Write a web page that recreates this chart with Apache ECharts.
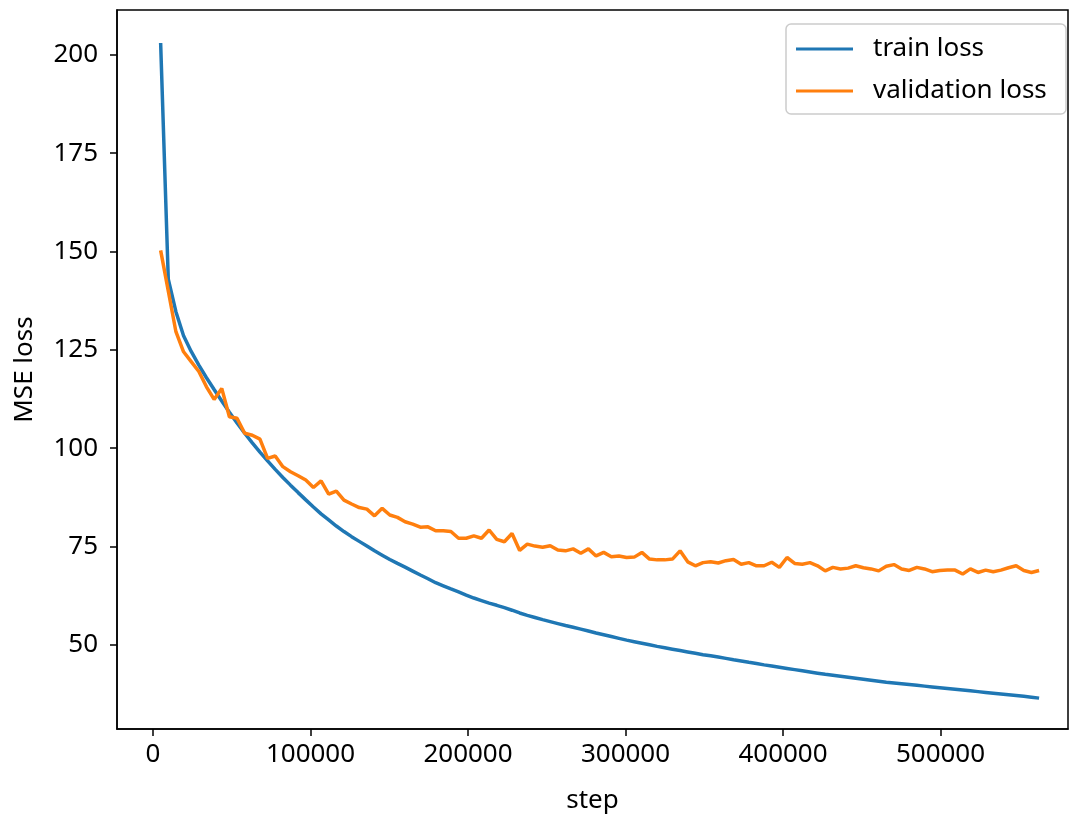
<!DOCTYPE html>
<html>
<head>
<meta charset="utf-8">
<script src="https://cdn.jsdelivr.net/npm/echarts@6/dist/echarts.min.js"></script>
<style>
  html, body { margin: 0; padding: 0; background: #fff; }
  #chart { width: 1073px; height: 823px; }
</style>
</head>
<body>
<div id="chart"></div>
<script>
// 训练步数
var steps = [
  4850, 9700, 14550, 19400, 24250, 29100, 33950, 38800, 43650, 48500,
  53350, 58200, 63050, 67900, 72750, 77600, 82450, 87300, 92150, 97000,
  101850, 106700, 111550, 116400, 121250, 126100, 130950, 135800, 140650, 145500,
  150350, 155200, 160050, 164900, 169750, 174600, 179450, 184300, 189150, 194000,
  198850, 203700, 208550, 213400, 218250, 223100, 227950, 232800, 237650, 242500,
  247350, 252200, 257050, 261900, 266750, 271600, 276450, 281300, 286150, 291000,
  295850, 300700, 305550, 310400, 315250, 320100, 324950, 329800, 334650, 339500,
  344350, 349200, 354050, 358900, 363750, 368600, 373450, 378300, 383150, 388000,
  392850, 397700, 402550, 407400, 412250, 417100, 421950, 426800, 431650, 436500,
  441350, 446200, 451050, 455900, 460750, 465600, 470450, 475300, 480150, 485000,
  489850, 494700, 499550, 504400, 509250, 514100, 518950, 523800, 528650, 533500,
  538350, 543200, 548050, 552900, 557750, 562600
]

var trainLoss = [
  203, 143, 134.7, 128.6, 124.6, 121.1, 117.9, 114.9, 112.0, 109.15,
  106.4, 103.8, 101.35, 99.0, 96.75, 94.6, 92.55, 90.6, 88.7, 86.85,
  85.05, 83.3, 81.75, 80.2, 78.8, 77.5, 76.3, 75.1, 73.9, 72.8,
  71.7, 70.7, 69.75, 68.75, 67.75, 66.8, 65.8, 65.0, 64.2, 63.45,
  62.65, 61.9, 61.25, 60.6, 60.05, 59.45, 58.8, 58.1, 57.5, 56.95,
  56.4, 55.9, 55.4, 54.9, 54.45, 54.0, 53.5, 53.0, 52.55, 52.1,
  51.65, 51.2, 50.8, 50.4, 50.0, 49.6, 49.25, 48.9, 48.55, 48.2,
  47.85, 47.5, 47.2, 46.9, 46.55, 46.2, 45.9, 45.55, 45.25, 44.9,
  44.6, 44.3, 44.0, 43.7, 43.4, 43.1, 42.8, 42.5, 42.25, 42.0,
  41.75, 41.5, 41.25, 41.0, 40.75, 40.5, 40.3, 40.1, 39.9, 39.7,
  39.5, 39.3, 39.1, 38.9, 38.7, 38.5, 38.3, 38.1, 37.9, 37.7,
  37.5, 37.3, 37.1, 36.9, 36.7, 36.45
]

var validationLoss = [
  150.3, 140, 129.6, 124.5, 122, 119.5, 115.6, 112.4, 115.2, 108,
  107.6, 103.8, 103.3, 102.3, 97.4, 98, 95.3, 94, 93.0, 91.9,
  90.0, 91.7, 88.3, 89.1, 86.8, 85.8, 84.9, 84.5, 82.8, 84.7,
  83.0, 82.4, 81.3, 80.7, 79.9, 80.0, 79.0, 79.0, 78.8, 77.1,
  77.1, 77.7, 77.1, 79.2, 76.8, 76.2, 78.3, 74.0, 75.6, 75.1,
  74.8, 75.2, 74.1, 73.9, 74.4, 73.3, 74.4, 72.6, 73.5, 72.4,
  72.6, 72.2, 72.3, 73.5, 71.8, 71.6, 71.6, 71.8, 73.9, 71.1,
  70.1, 70.9, 71.1, 70.8, 71.4, 71.7, 70.5, 70.9, 70.1, 70.1,
  71.0, 69.7, 72.2, 70.7, 70.5, 70.9, 70.1, 68.8, 69.7, 69.3,
  69.5, 70.1, 69.6, 69.3, 68.8, 70.0, 70.4, 69.3, 68.9, 69.7,
  69.3, 68.6, 68.9, 69.0, 69.0, 68.0, 69.3, 68.4, 69.0, 68.6,
  69.0, 69.6, 70.1, 68.9, 68.4, 68.9
]

var xTicks = [0, 100000, 200000, 300000, 400000, 500000]
var yTicks = [50, 75, 100, 125, 150, 175, 200]

var fontFamily = 'Noto Sans'
var fontSize = 26

function pairs(xs, ys) {
  return ys.map(function (v, i) { return [xs[i], v] })
}

var myChart = echarts.init(document.getElementById('chart'))

var option = {
  animation: false,
  textStyle: { fontFamily: fontFamily, color: '#000' },
  grid: {
    left: 117, top: 10, right: 5, bottom: 94,
    outerBoundsMode: 'none',
    containLabel: false,
    show: true,
    borderColor: '#000',
    borderWidth: 1.5,
    backgroundColor: '#fff'
  },
  legend: {
    orient: 'vertical',
    right: 7,
    top: 24,
    icon: 'rect',
    itemWidth: 57,
    itemHeight: 3,
    itemGap: 12,
    padding: [10, 9, 8, 10],
    borderColor: '#cccccc',
    borderWidth: 1.5,
    borderRadius: 5,
    backgroundColor: '#fff',
    textStyle: {
      fontFamily: fontFamily,
      fontSize: fontSize,
      color: '#000',
      lineHeight: 30,
      width: 184,
      padding: [0, 0, 0, 15]
    },
    data: ['train loss', 'validation loss']
  },
  xAxis: {
    type: 'value',
    min: -22857,
    max: 580952,
    name: 'step',
    nameLocation: 'middle',
    nameGap: 59,
    nameTextStyle: { fontFamily: fontFamily, fontSize: fontSize, color: '#000' },
    axisLine: { show: true, onZero: false, lineStyle: { color: '#000', width: 1.5 } },
    axisTick: { show: true, length: 7, lineStyle: { color: '#000', width: 1.5 }, customValues: xTicks },
    axisLabel: {
      fontFamily: fontFamily, fontSize: fontSize, color: '#000', margin: 13,
      customValues: xTicks,
      formatter: function (v) { return String(v) }
    },
    splitLine: { show: false }
  },
  yAxis: {
    type: 'value',
    min: 28.6,
    max: 211.4,
    name: 'MSE loss',
    nameLocation: 'middle',
    nameGap: 79,
    nameTextStyle: { fontFamily: fontFamily, fontSize: fontSize, color: '#000' },
    axisLine: { show: true, onZero: false, lineStyle: { color: '#000', width: 1.5 } },
    axisTick: { show: true, length: 7, lineStyle: { color: '#000', width: 1.5 }, customValues: yTicks },
    axisLabel: {
      fontFamily: fontFamily, fontSize: fontSize, color: '#000', margin: 19,
      customValues: yTicks,
      formatter: function (v) { return String(v) }
    },
    splitLine: { show: false }
  },
  series: [
    {
      name: 'train loss',
      type: 'line',
      data: pairs(steps, trainLoss),
      showSymbol: false,
      symbol: 'none',
      color: '#1f77b4',
      lineStyle: { width: 3.5, color: '#1f77b4' }
    },
    {
      name: 'validation loss',
      type: 'line',
      data: pairs(steps, validationLoss),
      showSymbol: false,
      symbol: 'none',
      color: '#ff7f0e',
      lineStyle: { width: 3.5, color: '#ff7f0e' }
    }
  ]
}

myChart.setOption(option)
</script>
</body>
</html>
